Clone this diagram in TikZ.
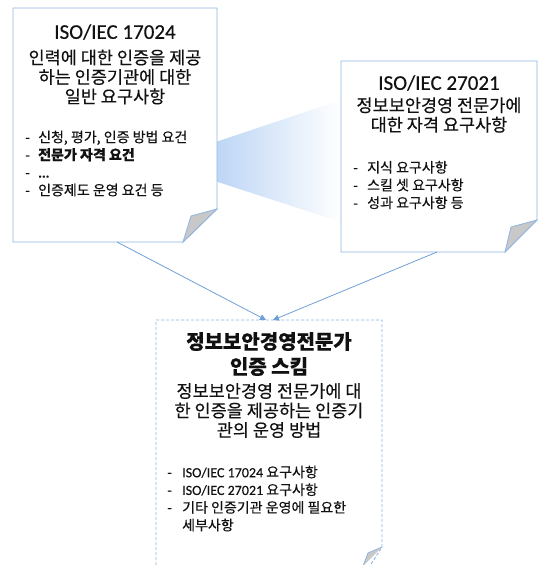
\documentclass[tikz,border=0pt]{standalone}
\usepackage{fontspec}
\setmainfont{Noto Sans CJK KR}[FakeBold=0.35]
\newfontfamily\lat{Carlito}[FakeBold=0.3]
\usetikzlibrary{arrows.meta}
\definecolor{bline}{HTML}{8DB4E2}
\definecolor{barrow}{HTML}{6F9FD8}
\definecolor{tipblue}{HTML}{9DC2F0}
\definecolor{foldgray}{HTML}{C8C8C8}
\definecolor{txt}{HTML}{111111}
\tikzset{
  boxline/.style={draw=bline, line width=0.9pt, fill=white, line join=miter},
  foldtri/.style={draw=bline, line width=0.8pt, fill=foldgray},
  conn/.style={draw=barrow, line width=0.8pt, -{Triangle[length=6pt,width=6pt]}},
  ttl/.style={inner sep=0pt, text=txt, font=\lat\fontsize{21}{24}\selectfont},
  sub/.style={inner sep=0pt, text=txt, align=center, font=\fontsize{17.5}{19.5}\selectfont},
  btitle/.style={inner sep=0pt, text=txt, align=center, font=\bfseries\fontsize{20}{25}\selectfont},
  blist/.style={inner sep=0pt, text=txt, align=left, anchor=west, font=\fontsize{14}{17.7}\selectfont},
}
\newcommand{\dd}[1]{\makebox[#1][l]{-}}
\begin{document}
\begin{tikzpicture}[x=1pt,y=-1pt]
\useasboundingbox (0,0) rectangle (538,565);
% callout wedge
\shade[left color=tipblue, right color=white] (156,162) -- (341,100) -- (341,222) -- cycle;
% box 1
\path[boxline] (13,8) -- (217,8) -- (217,209) -- (183,242) -- (13,242) -- cycle;
\path[foldtri] (217,209) -- (191,216) -- (183,242) -- cycle;
% box 2
\path[boxline] (341,61) -- (537,61) -- (537,220) -- (505,252) -- (341,252) -- cycle;
\path[foldtri] (537,220) -- (511,227) -- (505,252) -- cycle;
% box 3
\path[boxline, dashed, dash pattern=on 3pt off 2pt] (156,575) -- (156,320) -- (382,320) -- (382,547) -- (364,575);
\path[foldtri, draw=none] (382,547) -- (368,553) -- (363,566) -- cycle;
\draw[bline, line width=0.8pt] (382,547) -- (368,553) -- (363,566);
% coordinates for connectors
\coordinate (s1) at (117,242);
\coordinate (s2) at (437,252);
\coordinate (e1) at (266,320);
\coordinate (e2) at (273,320);
\draw[conn] (s1) -- (e1);
\draw[conn] (s2) -- (e2);
% texts box 1
\node[ttl] (t1) at (115,32) {ISO/IEC 17024};
\node[sub] (d1) at (115,77) {인력에 대한 인증을 제공\\하는 인증기관에 대한\\일반 요구사항};
\node[blist] (l1) at (25,163.5) {\dd{13pt}신청, 평가, 인증 방법 요건\\\dd{13pt}\textbf{전문가 자격 요건}\\\dd{13pt}\textbf{{\lat ...}}\\\dd{13pt}인증제도 운영 요건 등};
% texts box 2
\node[ttl] (t2) at (439,83) {ISO/IEC 27021};
\node[sub] (d2) at (439,115) {정보보안경영 전문가에\\대한 자격 요구사항};
\node[blist] (l2) at (353,185) {\dd{14pt}지식 요구사항\\\dd{14pt}스킬 셋 요구사항\\\dd{14pt}성과 요구사항 등};
% texts box 3
\node[btitle] (t3) at (269,354) {정보보안경영전문가\\인증 스킴};
\node[sub] (d3) at (269,410.5) {정보보안경영 전문가에 대\\한 인증을 제공하는 인증기\\관의 운영 방법};
\node[blist] (l3) at (167,498.5) {\dd{15pt}{\lat ISO/IEC 17024} 요구사항\\\dd{15pt}{\lat ISO/IEC 27021} 요구사항\\\dd{15pt}기타 인증기관 운영에 필요한\\\hspace*{15pt}세부사항};
\end{tikzpicture}
\end{document}
